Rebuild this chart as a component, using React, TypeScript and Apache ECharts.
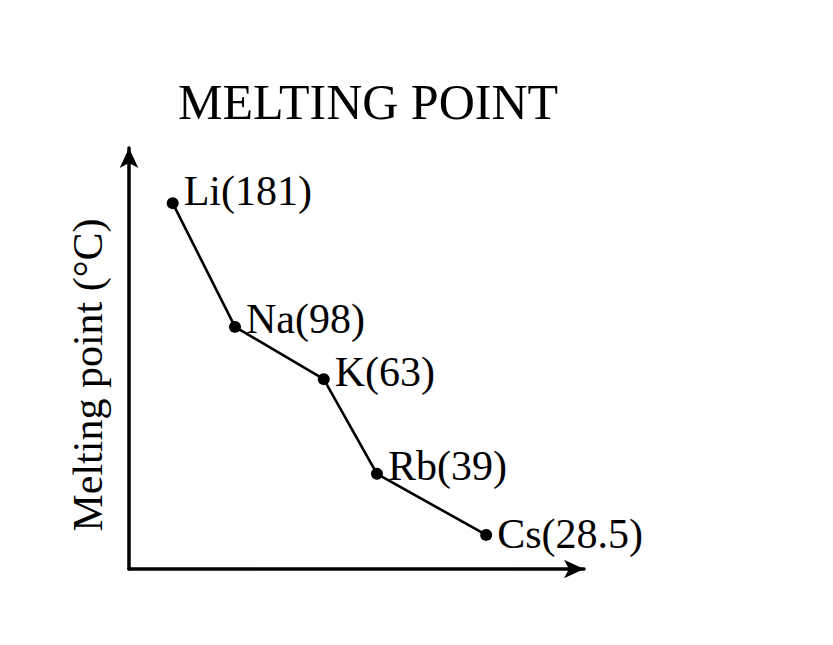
import React, { useEffect, useRef } from 'react';
import * as echarts from 'echarts';

const elements = ['Li', 'Na', 'K', 'Rb', 'Cs'];
const meltingPoints = [181, 98, 63, 39, 28.5];
// schematic positions of the points in the sketch (axis units, 0–100)
const sketchX = [9.6, 23.3, 42.8, 54.5, 78.5];
const sketchY = [86.9, 57.5, 45.1, 22.6, 8.1];
const titleText = 'MELTING POINT';
const yAxisName = 'Melting point (°C)';

export default function App() {
  const ref = useRef<HTMLDivElement>(null);
  useEffect(() => {
    document.body.style.margin = '0';
    const chart = echarts.init(ref.current!, null, { renderer: 'svg' });
    const font = '"Liberation Serif", "Times New Roman", serif';
    const labelDy = [-12, -8, -7, -8, -1];
    const axisCommon = {
      type: 'value',
      min: 0,
      max: 100,
      axisLine: {
        show: true,
        symbol: ['none', 'arrow'],
        symbolSize: [14, 20],
        lineStyle: { color: '#000', width: 3.5 },
      },
      axisTick: { show: false },
      axisLabel: { show: false },
      splitLine: { show: false },
    };
    chart.setOption({
      animation: false,
      backgroundColor: '#ffffff',
      title: {
        text: titleText,
        left: 173,
        top: 72,
        textStyle: { fontFamily: font, fontSize: 50, fontWeight: 'normal', color: '#000' },
      },
      grid: { left: 129, right: 833 - 584, top: 148, bottom: 645 - 569 },
      xAxis: { ...axisCommon },
      yAxis: {
        ...axisCommon,
        name: yAxisName,
        nameLocation: 'middle',
        nameGap: 20,
        nameTextStyle: { fontFamily: font, fontSize: 42, color: '#000', padding: [0, 33, 0, 0] },
      },
      series: [
        {
          type: 'line',
          data: elements.map((e, i) => ({
            name: e,
            value: [sketchX[i], sketchY[i]],
            mp: meltingPoints[i],
            label: { offset: [0, labelDy[i]] },
          })),
          symbol: 'circle',
          symbolSize: 12,
          itemStyle: { color: '#000' },
          lineStyle: { color: '#000', width: 2.6 },
          label: {
            show: true,
            position: 'right',
            formatter: (p: any) => `${p.name}(${p.data.mp})`,
            fontFamily: font,
            fontSize: 42,
            color: '#000',
          },
        },
      ],
    });
    return () => chart.dispose();
  }, []);
  return <div ref={ref} style={{ width: 833, height: 645 }} />;
}
